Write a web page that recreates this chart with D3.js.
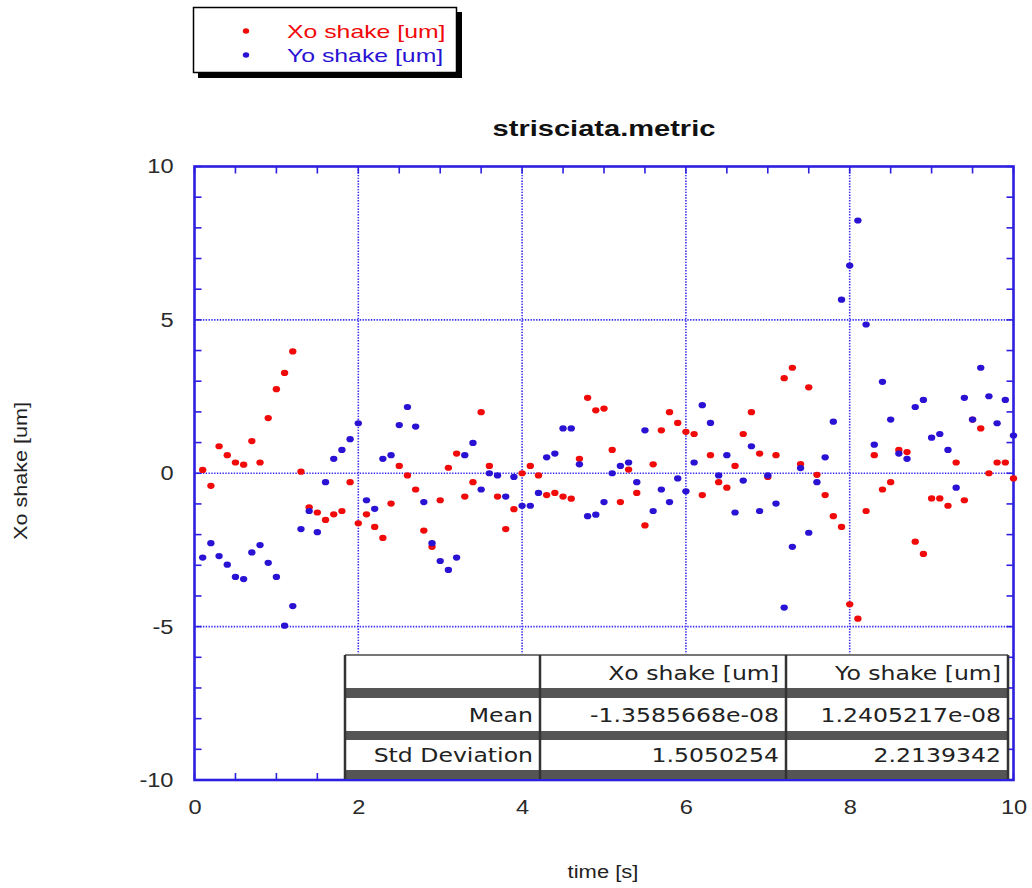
<!DOCTYPE html>
<html><head><meta charset="utf-8">
<script src="https://cdn.jsdelivr.net/npm/d3@7/dist/d3.min.js"></script>
<style>html,body{margin:0;padding:0;background:#fff;}svg{display:block;}</style>
</head><body>
<script>
const times = d3.range(1, 101).map(i => +(i / 10).toFixed(1));
const xoShake = [0.11,-0.41,0.88,0.59,0.35,0.28,1.05,0.35,1.80,2.74,3.27,3.97,0.05,-1.11,-1.28,-1.52,-1.34,-1.23,-0.29,-1.63,
-1.34,-1.75,-2.11,-0.99,0.24,-0.07,-0.53,-1.87,-2.40,-0.88,0.18,0.64,-0.76,-0.29,1.99,0.24,-0.76,-1.82,-1.17,0.00,
0.24,-0.07,-0.71,-0.64,-0.76,-0.83,0.47,2.46,2.05,2.11,0.76,-0.94,0.12,-0.64,-1.70,0.29,1.40,1.99,1.64,1.35,
1.28,-0.71,0.59,-0.29,-0.47,0.24,1.28,1.99,0.64,-0.12,0.59,3.10,3.44,0.30,2.80,-0.05,-0.71,-1.40,-1.75,-4.27,
-4.74,-1.23,0.59,-0.53,-0.29,0.76,0.69,-2.23,-2.63,-0.82,-0.82,-1.06,0.35,-0.88,1.75,1.46,0.00,0.35,0.35,-0.17];
const yoShake = [-2.75,-2.28,-2.70,-2.98,-3.38,-3.45,-2.58,-2.34,-2.92,-3.38,-4.97,-4.33,-1.82,-1.23,-1.92,-0.29,0.47,0.76,1.11,1.63,
-0.88,-1.16,0.47,0.59,1.57,2.16,1.52,-0.94,-2.28,-2.86,-3.15,-2.75,0.59,0.99,-0.53,0.00,-0.07,-0.76,-0.12,-1.06,
-1.06,-0.64,0.52,0.64,1.46,1.46,0.29,-1.40,-1.35,-0.94,0.00,0.24,0.35,-0.29,1.40,-1.23,-0.53,-0.94,-0.17,-0.59,
0.35,2.22,1.64,-0.07,0.59,-1.28,-0.24,0.88,-1.23,-0.07,-0.99,-4.38,-2.40,0.17,-1.94,-0.29,0.52,1.68,5.66,6.77,
8.24,4.85,0.93,2.98,1.75,0.64,0.47,2.16,2.39,1.16,1.28,0.76,-0.47,2.46,1.75,3.44,2.51,1.63,2.39,1.23];
const seriesNames = ["Xo shake [um]", "Yo shake [um]"];
const xTicks = [0,2,4,6,8,10];
const yTicks = [-10,-5,0,5,10];
const statRows = ["Mean", "Std Deviation"];
const statXo = ["-1.3585668e-08", "1.5050254"];
const statYo = ["1.2405217e-08", "2.2139342"];
const title = "strisciata.metric";
const xLabel = "time [s]";
const yLabel = "Xo shake [um]";

const W = 1032, H = 888;
const red = "#f00a0a", blue = "#2a12d4", axisBlue = "#2d1fe0";
const svg = d3.select("body").append("svg").attr("width", W).attr("height", H)
  .style("font-family", "'Liberation Sans', Arial, sans-serif");

// widen glyphs horizontally (reference text is laterally stretched)
function stretch(sel, f) {
  sel.each(function () {
    const n = this.getComputedTextLength();
    if (n > 0) d3.select(this).attr("textLength", n * f).attr("lengthAdjust", "spacingAndGlyphs");
  });
}

const L = 194.5, R = 1013.5, T = 166.5, B = 780;
const x = d3.scaleLinear().domain([0, 10]).range([L, R]);
const y = d3.scaleLinear().domain([-10, 10]).range([B, T]);

// grid
const grid = svg.append("g").attr("stroke", "#3a2ef0").attr("stroke-width", 1.6)
  .attr("stroke-dasharray", "1.4,1.4");
grid.selectAll("line.gx").data(xTicks.filter(d => d > 0 && d < 10)).join("line")
  .attr("x1", d => x(d)).attr("x2", d => x(d)).attr("y1", T).attr("y2", B);
grid.selectAll("line.gy").data(yTicks.filter(d => d > -10 && d < 10)).join("line")
  .attr("y1", d => y(d)).attr("y2", d => y(d)).attr("x1", L).attr("x2", R);

// minor ticks inward
const tk = svg.append("g").attr("stroke", axisBlue).attr("stroke-width", 1.6);
const xMinor = d3.range(0, 10.01, 0.5);
const yMinor = d3.range(-10, 10.01, 1);
tk.selectAll("line.xb").data(xMinor).join("line")
  .attr("x1", d => x(d)).attr("x2", d => x(d)).attr("y1", B).attr("y2", B - 7);
tk.selectAll("line.xt").data(xMinor).join("line")
  .attr("x1", d => x(d)).attr("x2", d => x(d)).attr("y1", T).attr("y2", T + 7);
tk.selectAll("line.yl").data(yMinor).join("line")
  .attr("y1", d => y(d)).attr("y2", d => y(d)).attr("x1", L).attr("x2", L + 7);
tk.selectAll("line.yr").data(yMinor).join("line")
  .attr("y1", d => y(d)).attr("y2", d => y(d)).attr("x1", R).attr("x2", R - 7);

// frame
svg.append("rect").attr("x", L).attr("y", T).attr("width", R - L).attr("height", B - T)
  .attr("fill", "none").attr("stroke", axisBlue).attr("stroke-width", 2.6);

// axes tick labels
const xAxis = d3.axisBottom(x).tickValues(xTicks).tickSize(0).tickPadding(20).tickFormat(d3.format("d"));
const gx = svg.append("g").attr("transform", `translate(0,${B})`).call(xAxis);
const yAxis = d3.axisLeft(y).tickValues(yTicks).tickSize(0).tickPadding(21)
  .tickFormat(d => d < 0 ? "-" + Math.abs(d) : String(d));
const gy = svg.append("g").attr("transform", `translate(${L},0)`).call(yAxis);
[gx, gy].forEach(g => {
  g.select(".domain").remove();
  g.selectAll("text").attr("font-size", 20).attr("fill", "#2a2a2a")
    .style("font-family", "'Liberation Sans', Arial, sans-serif");
  stretch(g.selectAll("text"), 1.18);
});

// points
const pts = svg.append("g");
pts.selectAll("ellipse.xo").data(times).join("ellipse")
  .attr("cx", d => x(d)).attr("cy", (d, i) => y(xoShake[i])).attr("rx", 3.7).attr("ry", 3.1).attr("fill", red);
pts.selectAll("ellipse.yo").data(times).join("ellipse")
  .attr("cx", d => x(d)).attr("cy", (d, i) => y(yoShake[i])).attr("rx", 3.7).attr("ry", 3.1).attr("fill", blue);

// title & labels
stretch(svg.append("text").attr("x", 604).attr("y", 136).attr("text-anchor", "middle")
  .attr("font-size", 22).attr("font-weight", "bold").attr("fill", "#111").text(title), 1.32);
stretch(svg.append("text").attr("x", 603).attr("y", 878).attr("text-anchor", "middle")
  .attr("font-size", 18).attr("fill", "#222").text(xLabel), 1.22);
stretch(svg.append("text").attr("transform", "translate(27,471) rotate(-90)").attr("text-anchor", "middle")
  .attr("font-size", 18).attr("fill", "#222").text(yLabel), 1.2);

// legend
const lg = svg.append("g");
lg.append("rect").attr("x", 198).attr("y", 12).attr("width", 264).attr("height", 66).attr("fill", "#000");
lg.append("rect").attr("x", 193.5).attr("y", 7.5).attr("width", 263).attr("height", 65)
  .attr("fill", "#fff").attr("stroke", "#000").attr("stroke-width", 1.5);
const legCols = [red, blue];
seriesNames.forEach((n, i) => {
  lg.append("ellipse").attr("cx", 246).attr("cy", 31 + i * 24).attr("rx", 3.2).attr("ry", 2.7).attr("fill", legCols[i]);
  stretch(lg.append("text").attr("x", 287).attr("y", 37.5 + i * 24.3).attr("font-size", 18.5)
    .attr("fill", legCols[i]).text(n), 1.34);
});

// stats table
const tb = svg.append("g").style("font-family", "'DejaVu Sans', Verdana, sans-serif");
const tL = 345, tR = 1008, tT = 655, tB = 779;
const colX = [tL, 540, 786, tR];
const barH = [[688, 698], [731, 740], [770, 779]];
tb.append("rect").attr("x", tL).attr("y", tT).attr("width", tR - tL).attr("height", tB - tT)
  .attr("fill", "#fff");
barH.forEach(b => tb.append("rect").attr("x", tL).attr("y", b[0]).attr("width", tR - tL)
  .attr("height", b[1] - b[0]).attr("fill", "#555"));
tb.append("line").attr("x1", tL).attr("x2", tR).attr("y1", tT).attr("y2", tT)
  .attr("stroke", "#777").attr("stroke-width", 2);
colX.forEach(cx => tb.append("line").attr("x1", cx).attr("x2", cx).attr("y1", tT).attr("y2", tB)
  .attr("stroke", "#333").attr("stroke-width", 2.5));
const cells = [["", seriesNames[0], seriesNames[1]],
  [statRows[0], statXo[0], statYo[0]], [statRows[1], statXo[1], statYo[1]]];
const baselines = [680, 722, 762];
cells.forEach((row, r) => row.forEach((c, k) => {
  if (!c) return;
  stretch(tb.append("text").attr("x", colX[k + 1] - 7).attr("y", baselines[r]).attr("text-anchor", "end")
    .attr("font-size", 19).attr("fill", "#222").text(c), 1.24);
}));
</script>
</body></html>
